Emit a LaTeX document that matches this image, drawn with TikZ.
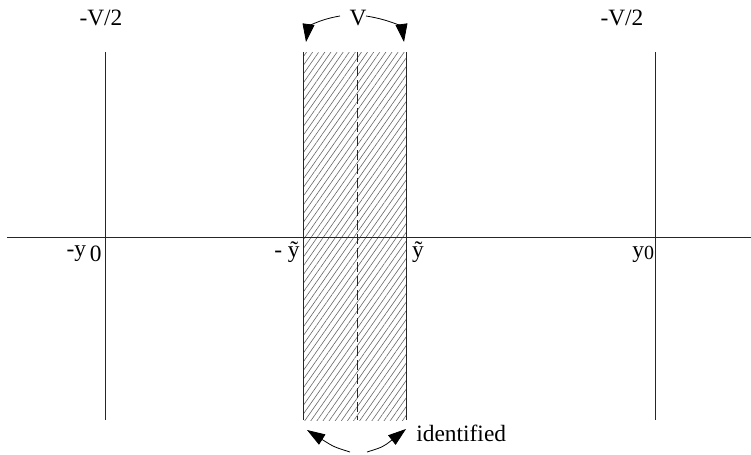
\documentclass[tikz,border=0pt]{standalone}
\usepackage{fontspec}
\setmainfont{Liberation Serif}
\usetikzlibrary{patterns.meta,arrows.meta}
\tikzstyle{axis}=[line width=0.5pt, black!85]
\tikzstyle{lbl}=[inner sep=0pt, font=\fontsize{11.7}{14}\selectfont]
\tikzstyle{bendarrow}=[-{Triangle[length=9pt,width=6pt]}, line width=0.4pt]

\begin{document}
\begin{tikzpicture}[x=0.5pt, y=-0.5pt]
  \useasboundingbox (0,0) rectangle (751,455);
  % shaded strip
  \fill[pattern={Lines[angle=55,distance=2.5pt,line width=0.3pt]}, pattern color=black!60]
    (303,52) rectangle (406,420);
  \coordinate (sl) at (303,52);
  \coordinate (slb) at (303,420);
  \coordinate (sr) at (406,52);
  \coordinate (srb) at (406,420);
  \coordinate (mid) at (357,52);
  \coordinate (midb) at (357,420);
  \draw[axis] (sl)--(slb);
  \draw[axis] (sr)--(srb);
  \draw[axis, dash pattern=on 5pt off 2pt] (mid)--(midb);
  % axes
  \coordinate (ax) at (7,237);
  \coordinate (axe) at (751,237);
  \coordinate (l) at (105,52);
  \coordinate (lb) at (105,420);
  \coordinate (r) at (655,52);
  \coordinate (rb) at (655,420);
  \draw[axis] (ax)--(axe);
  \draw[axis] (l)--(lb);
  \draw[axis] (r)--(rb);
  % labels
  \node[lbl] (vl) at (101,18) {-V/2};
  \node[lbl] (vr) at (622,18) {-V/2};
  \node[lbl] (v) at (358,18) {V};
  \node[lbl, anchor=east] (y0l) at (102,254) {-y\,\raisebox{-0.5ex}{0}};
  \node[lbl] (ytl) at (287,252) {- ỹ};
  \node[lbl] (ytr) at (418,252) {ỹ};
  \node[lbl, anchor=west] (y0r) at (632,254) {y\raisebox{-0.2ex}{\fontsize{10}{12}\selectfont 0}};
  \node[lbl, anchor=west] (id) at (416,433) {identified};
  % arrows
  \coordinate (a1) at (340,16);
  \coordinate (a1t) at (306,42);
  \coordinate (a2) at (366,16);
  \coordinate (a2t) at (404,42);
  \coordinate (b1) at (350,452);
  \coordinate (b1t) at (307,430);
  \coordinate (b2) at (367,452);
  \coordinate (b2t) at (406,429);
  \draw[bendarrow] (a1) .. controls (316,20) and (308,28) .. (a1t);
  \draw[bendarrow] (a2) .. controls (392,20) and (402,28) .. (a2t);
  \draw[bendarrow] (b1) .. controls (334,447) .. (b1t);
  \draw[bendarrow] (b2) .. controls (383,447) .. (b2t);
\end{tikzpicture}
\end{document}
